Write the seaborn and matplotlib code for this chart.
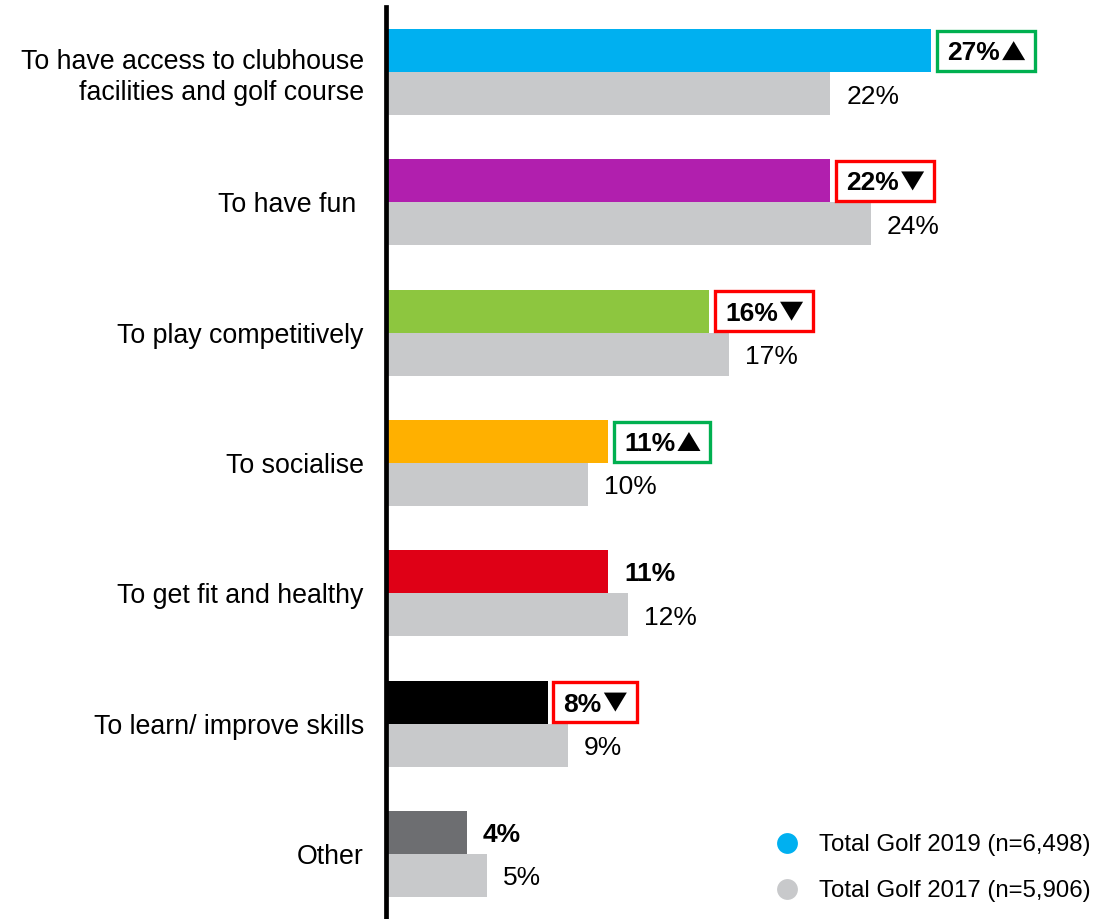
import matplotlib
matplotlib.use("Agg")
import matplotlib.pyplot as plt
import seaborn as sns
import pandas as pd
from matplotlib.lines import Line2D
from matplotlib.patches import Polygon, Rectangle
from matplotlib.transforms import IdentityTransform

sns.set_theme(style="white")
plt.rcParams["font.family"] = ["Liberation Sans", "DejaVu Sans"]
plt.rcParams["text.color"] = "black"
plt.rcParams["ytick.color"] = "black"

categories = [
    "To have access to clubhouse\nfacilities and golf course",
    "To have fun ",
    "To play competitively",
    "To socialise",
    "To get fit and healthy",
    "To learn/ improve skills",
    "Other",
]
values_2019 = [27, 22, 16, 11, 11, 8, 4]
values_2017 = [22, 24, 17, 10, 12, 9, 5]
# significance flag vs 2017: +1 up, -1 down, 0 none
change_flags = [1, -1, -1, 1, 0, -1, 0]
colors_2019 = ["#00B0F0", "#B11FAE", "#8DC63F", "#FFB000", "#DF0016", "#000000", "#6D6E71"]
color_2017 = "#C8C9CB"
series_labels = ["Total Golf 2019 (n=6,498)", "Total Golf 2017 (n=5,906)"]

DPI = 100
PX = 72 / DPI  # points per pixel

df = pd.DataFrame({
    "category": categories * 2,
    "value": values_2019 + values_2017,
    "series": [series_labels[0]] * len(categories) + [series_labels[1]] * len(categories),
})

fig = plt.figure(figsize=(10.94, 9.19), dpi=DPI)
ax = fig.add_axes([386 / 1094, 0, 1 - 386 / 1094, 1 - 7 / 919])

sns.barplot(data=df, y="category", x="value", hue="series", orient="h",
            hue_order=series_labels, order=categories,
            palette=[colors_2019[0], color_2017], width=0.66, dodge=True,
            saturation=1, legend=False, ax=ax)

# recolour the 2019 bars per category
n = len(categories)
for i, patch in enumerate(ax.patches[:n]):
    patch.set_facecolor(colors_2019[i])
    patch.set_edgecolor("none")
for patch in ax.patches[n:2 * n]:
    patch.set_edgecolor("none")

ax.set_xlim(0, 35.05)
ax.set_ylim(6.5, -0.5)
ax.set_xlabel("")
ax.set_ylabel("")
ax.set_xticks([])
ax.tick_params(axis="y", length=0, pad=16, labelsize=19.3, labelcolor="black")
for lbl in ax.get_yticklabels():
    lbl.set_horizontalalignment("right")
    lbl.set_linespacing(1.25)

for s in ["top", "right", "bottom"]:
    ax.spines[s].set_visible(False)
ax.spines["left"].set_linewidth(3.4)
ax.spines["left"].set_color("black")

off = 0.165
half = 0.165
badges = []
for i in range(n):
    v19 = values_2019[i]
    v17 = values_2017[i]
    t = ax.annotate(f"{v19}%", xy=(v19, i - off), xytext=(16 * PX, -9.5 * PX),
                    textcoords="offset points", ha="left", va="baseline",
                    fontsize=19, fontweight="bold", color="black")
    if change_flags[i] != 0:
        badges.append((i, v19, change_flags[i], t))
    ax.annotate(f"{v17}%", xy=(v17, i + off), xytext=(16 * PX, -10 * PX),
                textcoords="offset points", ha="left", va="baseline",
                fontsize=19, color="black")

handles = [
    Line2D([], [], linestyle="none", marker="o", markersize=15, markerfacecolor=colors_2019[0], markeredgecolor="none"),
    Line2D([], [], linestyle="none", marker="o", markersize=15, markerfacecolor=color_2017, markeredgecolor="none"),
]
ax.legend(handles, series_labels, loc="lower right", bbox_to_anchor=(1.0 + 9 / 708, 5 / 912),
          frameon=False, fontsize=17.3, handletextpad=0.75, labelspacing=1.0,
          borderaxespad=0.1, handlelength=1.2)

# significance badges: up/down triangle after the value, framed to the bar height
fig.canvas.draw()
renderer = fig.canvas.get_renderer()
tri_w, tri_h = 23, 19
for i, v19, flag, t in badges:
    bb = t.get_window_extent(renderer)
    bar_left, bar_top = ax.transData.transform((v19, i - off - half))
    _, bar_bot = ax.transData.transform((v19, i - off + half))
    # baseline of the value text in display coords
    _, cy = ax.transData.transform((v19, i - off))
    base = cy - 9.5
    x0 = bb.x1 + 2
    if flag > 0:
        pts = [(x0, base), (x0 + tri_w, base), (x0 + tri_w / 2, base + tri_h)]
        edge = "#00B050"
    else:
        pts = [(x0, base + tri_h), (x0 + tri_w, base + tri_h), (x0 + tri_w / 2, base)]
        edge = "#FF0000"
    fig.patches.append(Polygon(pts, closed=True, facecolor="black", edgecolor="none",
                               transform=IdentityTransform(), figure=fig, zorder=5))
    left = bar_left + 5.5
    right = x0 + tri_w + 10
    lo, hi = min(bar_top, bar_bot), max(bar_top, bar_bot)
    fig.patches.append(Rectangle((left, lo + 1.5), right - left, hi - lo - 3, facecolor="none",
                                 edgecolor=edge, linewidth=2.4,
                                 transform=IdentityTransform(), figure=fig, zorder=5))

fig.savefig("out.png", dpi=DPI)
